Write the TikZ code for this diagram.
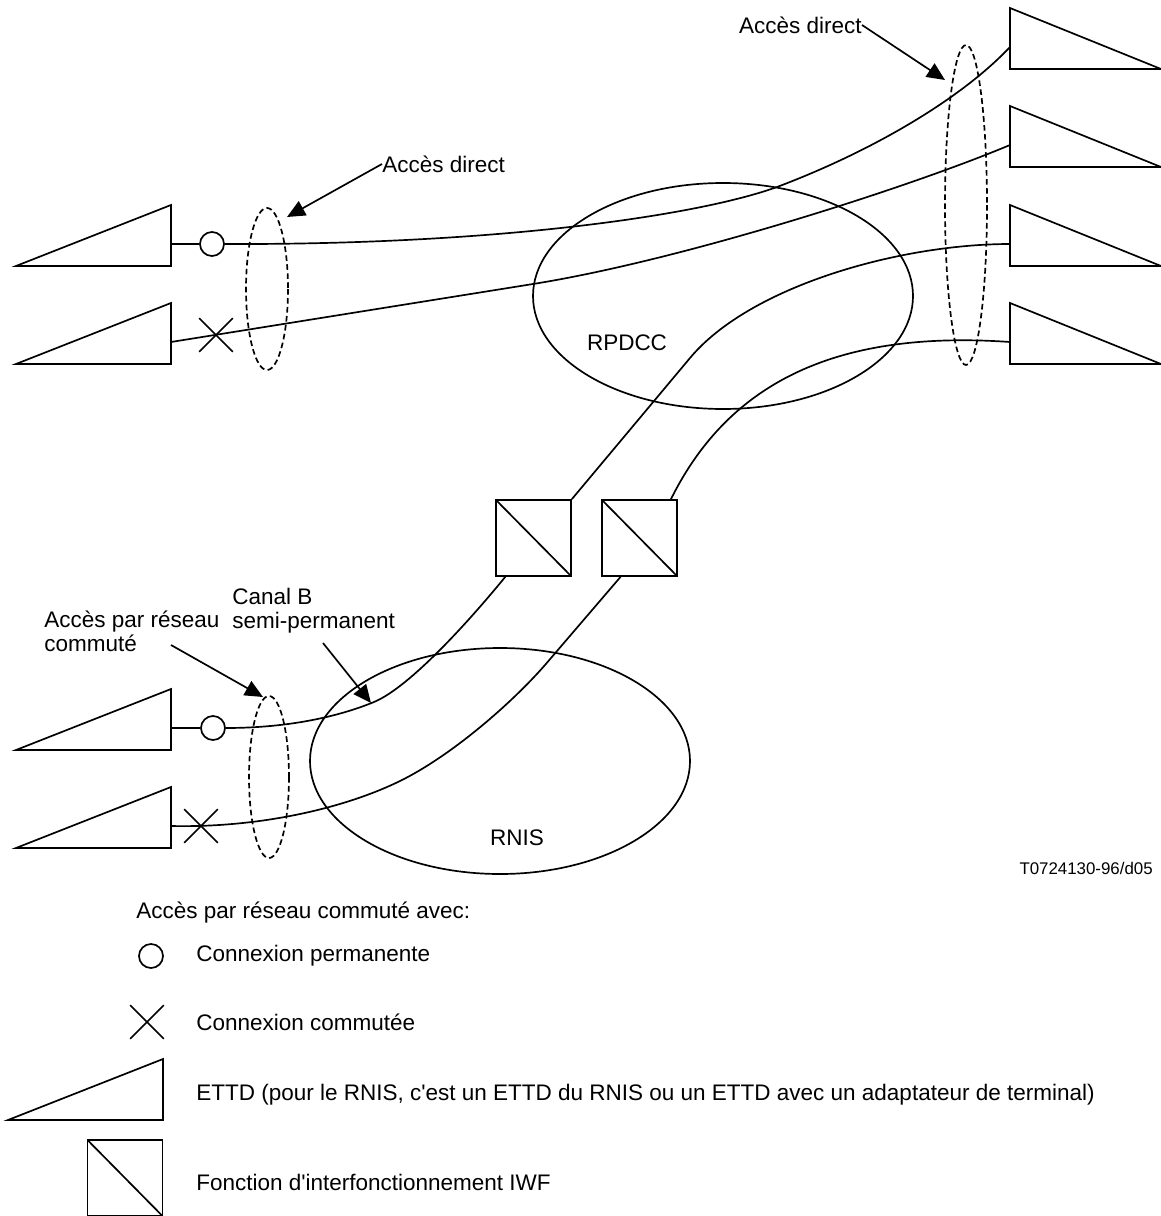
\documentclass[tikz,border=0pt]{standalone}
\usepackage{fontspec}
\setmainfont{Liberation Sans}
\usetikzlibrary{arrows.meta,shapes.misc}
\definecolor{ink}{HTML}{000000}
\tikzset{
  wire/.style={draw=ink, line width=1.2pt},
  access/.style={draw=ink, line width=1.2pt, dash pattern=on 4pt off 2.4pt},
  pointer/.style={-{Triangle[length=4.5mm, width=4mm]}, line width=1.2pt, draw=ink},
  perm/.style={circle, draw=ink, line width=1.2pt, fill=white, minimum size=6mm, inner sep=0pt},
  comm/.style={cross out, draw=ink, line width=1.2pt, minimum size=8mm, inner sep=0pt},
  iwf/.style={rectangle, draw=ink, line width=1.2pt, minimum width=18.75mm, minimum height=19mm, inner sep=0pt,
    path picture={\draw[ink, line width=1.2pt] (path picture bounding box.north west) -- (path picture bounding box.south east);}},
  txt/.style={font=\fontsize{16}{17}\selectfont, inner sep=0pt, align=left},
  ettdleft/.pic={\draw[wire] (-155,0) -- (0,0) -- (0,-61) -- cycle; \coordinate (-port) at (0,-22);},
  ettdright/.pic={\draw[wire] (151,0) -- (0,0) -- (0,-61) -- cycle; \coordinate (-port) at (0,-22);}
}

\begin{document}
\begin{tikzpicture}[x=0.025cm, y=-0.025cm]
  \useasboundingbox (0,0) rectangle (1161,1216);

  \foreach \n/\yb in {1/266,2/364,3/750,4/848} \pic (tl\n) at (171,\yb) {ettdleft};
  \foreach \n/\yb in {1/69,2/167,3/266,4/364} \pic (tr\n) at (1010,\yb) {ettdright};

  \draw[wire] (723,296) ellipse [x radius=190, y radius=113];
  \draw[wire] (500,761) ellipse [x radius=190, y radius=113];
  \node[txt] (rpdcc) at (627,343) {RPDCC};
  \node[txt] (rnis) at (517,838) {RNIS};

  \draw[access] (267,289) ellipse [x radius=21, y radius=81];
  \draw[access] (966,205) ellipse [x radius=21, y radius=160];
  \draw[access] (269,777) ellipse [x radius=20, y radius=81];

  \node[perm] (c1) at (212,244) {};
  \node[perm] (c3) at (213,728) {};
  \node[comm] (x1) at (216,335) {};
  \node[comm] (x2) at (201,826) {};
  \node[iwf] (iwf1) at (533.5,538) {};
  \node[iwf] (iwf2) at (639.5,538) {};

  \draw[wire] (tl1-port) -- (c1);
  \draw[wire] (c1.east) .. controls (500,245) and (700,215) .. (777,187) .. controls (870,152) and (960,100) .. (tr1-port);
  \draw[wire] (tl2-port) -- (533,284) .. controls (683,260) and (910,187) .. (tr2-port);
  \draw[wire] (iwf1.north east) -- (690,358) .. controls (750,286) and (900,244) .. (tr3-port);
  \draw[wire] (iwf2.51) .. controls (730,380) and (840,330) .. (tr4-port);
  \draw[wire] (tl3-port) -- (c3);
  \draw[wire] (c3.east) .. controls (290,728) and (340,716) .. (374,702) .. controls (410,687) and (470,620) .. (iwf1.234);
  \draw[wire] (tl4-port) .. controls (260,828) and (345,808) .. (400,781) .. controls (450,756.5) and (510,705) .. (545,665) -- (iwf2.244);

  \node[txt, anchor=west] (ad1) at (382,164) {Accès direct};
  \coordinate (ad1tip) at (287,217);
  \draw[pointer] (ad1.west) -- (ad1tip);
  \node[txt, anchor=east] (ad2) at (862,25) {Accès direct};
  \coordinate (ad2tip) at (945,80);
  \draw[pointer] (ad2.east) -- (ad2tip);
  \node[txt, anchor=west] (apr) at (44,631) {Accès par réseau\\commuté};
  \coordinate (aprtail) at (171,645);
  \coordinate (aprtip) at (263,697);
  \draw[pointer] (aprtail) -- (aprtip);
  \node[txt, anchor=west] (cb) at (232,611) {Canal B\\semi-permanent};
  \coordinate (cbtail) at (323,643);
  \coordinate (cbtip) at (371,703);
  \draw[pointer] (cbtail) -- (cbtip);
  \node[txt, anchor=east, font=\fontsize{12}{14}\selectfont] (ref) at (1153,868) {T0724130-96/d05};

  \node[txt, anchor=west] (lgtitle) at (136,913) {Accès par réseau commuté avec:};
  \node[perm] (lgc) at (151,956) {};
  \node[txt, anchor=west] (lgct) at (196,956) {Connexion permanente};
  \node[comm] (lgx) at (147,1022) {};
  \node[txt, anchor=west] (lgxt) at (196,1022) {Connexion commutée};
  \pic (lgtri) at (163,1120) {ettdleft};
  \node[txt, anchor=west] (lgtt) at (196,1095) {ETTD (pour le RNIS, c\textquotesingle est un ETTD du RNIS ou un ETTD avec un adaptateur de terminal)};
  \node[iwf] (lgiwf) at (125,1178) {};
  \node[txt, anchor=west] (lgit) at (196,1182) {Fonction d\textquotesingle interfonctionnement IWF};
\end{tikzpicture}
\end{document}
